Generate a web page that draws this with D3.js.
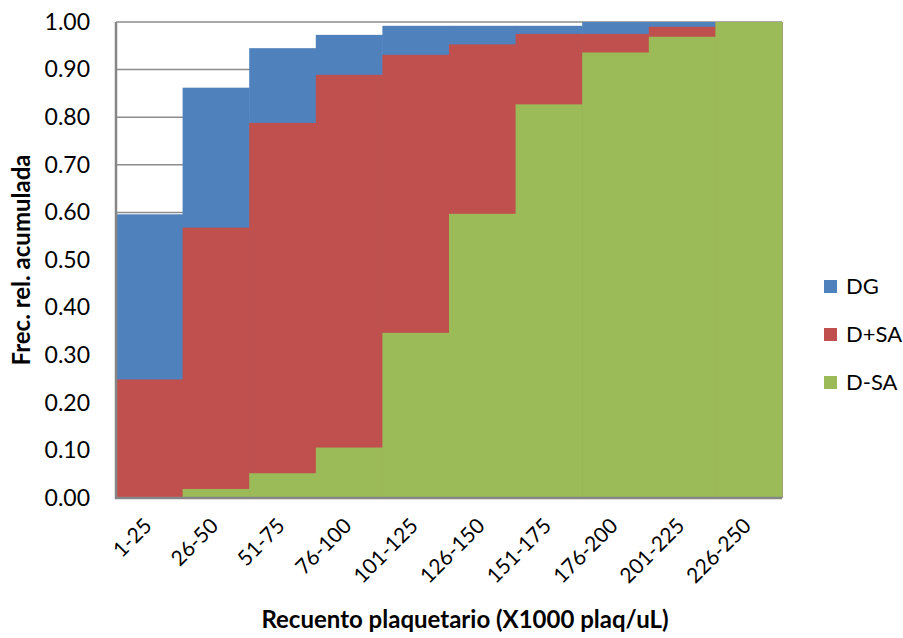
<!DOCTYPE html>
<html>
<head>
<meta charset="utf-8">
<script src="https://cdn.jsdelivr.net/npm/d3@7"></script>
<style>
  body { margin: 0; background: #fff; }
  svg { display: block; font-family: Lato, "Noto Sans", sans-serif; }
</style>
</head>
<body>
<svg id="chart" width="903" height="638"></svg>
<script>
const categories = ["1-25","26-50","51-75","76-100","101-125","126-150","151-175","176-200","201-225","226-250"];
const seriesNames = ["DG","D+SA","D-SA"];
const dgValues   = [0.596,0.862,0.945,0.973,0.992,0.992,0.992,1.00,1.00,1.00];
const dsaPlus    = [0.249,0.568,0.788,0.889,0.931,0.953,0.975,0.975,0.990,1.00];
const dsaMinus   = [0.000,0.019,0.052,0.106,0.347,0.597,0.827,0.936,0.969,1.00];
const yTicks     = [0,0.1,0.2,0.3,0.4,0.5,0.6,0.7,0.8,0.9,1.0];
const colors     = ["#4F81BD","#C0504D","#9BBB59"];
const seriesValues = [dgValues, dsaPlus, dsaMinus];

const svg = d3.select("#chart");
const m = {left:116, right:782, top:22, bottom:498};

const x = d3.scaleBand().domain(categories).range([m.left, m.right]).padding(0);
const y = d3.scaleLinear().domain([0,1]).range([m.bottom, m.top]);

// gridlines
svg.append("g").selectAll("line").data(yTicks.filter(d=>d>0)).join("line")
  .attr("x1", m.left).attr("x2", m.right)
  .attr("y1", d=>y(d)).attr("y2", d=>y(d))
  .attr("stroke", "#8c8c8c").attr("stroke-width", 1.5);

// bars (overlapping, back to front)
seriesValues.forEach((vals, si) => {
  svg.append("g").selectAll("rect").data(categories).join("rect")
    .attr("x", d=>x(d))
    .attr("width", x.bandwidth()+0.5)
    .attr("y", (d,i)=>y(vals[i]))
    .attr("height", (d,i)=>y(0)-y(vals[i]))
    .attr("fill", colors[si]);
});

// axes lines
svg.append("line").attr("x1", m.left).attr("x2", m.left).attr("y1", m.top).attr("y2", m.bottom+1)
  .attr("stroke", "#868686").attr("stroke-width", 2.5);
svg.append("line").attr("x1", m.left-1).attr("x2", m.right).attr("y1", m.bottom).attr("y2", m.bottom)
  .attr("stroke", "#868686").attr("stroke-width", 2.5);

// y tick labels
const yAxis = d3.axisLeft(y).tickValues(yTicks).tickFormat(d3.format(".2f")).tickSize(0).tickPadding(26);
const gy = svg.append("g").attr("transform", `translate(${m.left},0)`).call(yAxis);
gy.select(".domain").remove();
gy.selectAll("text").attr("font-size", 23).attr("fill", "#000").attr("font-family", "Lato, 'Noto Sans', sans-serif");

// x tick labels
const gx = svg.append("g");
gx.selectAll("text").data(categories).join("text")
  .attr("transform", d=>`translate(${x(d)+x.bandwidth()/2-1.5},${m.bottom+24}) rotate(-45)`)
  .attr("text-anchor", "end")
  .attr("dy", "0.35em")
  .attr("font-size", 21)
  .text(d=>d);

// axis titles
svg.append("text").attr("x", 465).attr("y", 628)
  .attr("text-anchor", "middle").attr("font-weight", "bold").attr("font-size", 24)
  .text("Recuento plaquetario (X1000 plaq/uL)");
svg.append("text").attr("transform", `translate(30,${(m.top+m.bottom)/2}) rotate(-90)`)
  .attr("text-anchor", "middle").attr("font-weight", "bold").attr("font-size", 24)
  .text("Frec. rel. acumulada");

// legend
const lg = svg.append("g");
seriesNames.forEach((n, i) => {
  const cy = 286.5 + i*48;
  lg.append("rect").attr("x", 824).attr("y", cy-6.5).attr("width", 13).attr("height", 13).attr("fill", colors[i]);
  lg.append("text").attr("x", 846).attr("y", cy).attr("dy", "0.35em").attr("font-size", 22).text(n);
});
</script>
</body>
</html>
